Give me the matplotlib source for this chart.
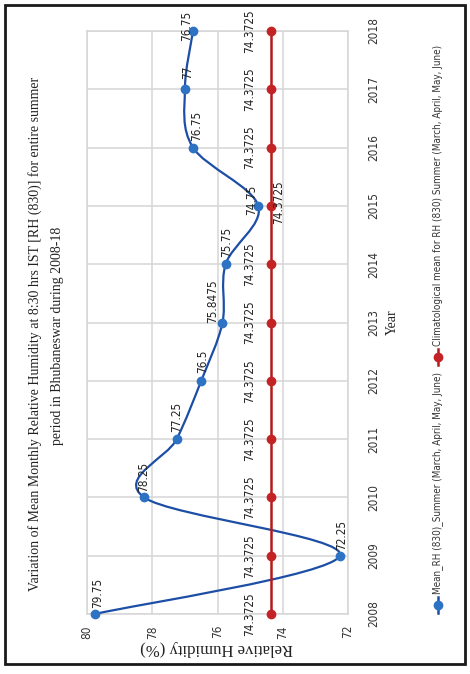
import matplotlib
matplotlib.use("Agg")
import matplotlib.pyplot as plt
from matplotlib.path import Path
from matplotlib.patches import PathPatch, Rectangle
from matplotlib.lines import Line2D
from matplotlib import font_manager
import numpy as np

# ---- data ----
years = [2008, 2009, 2010, 2011, 2012, 2013, 2014, 2015, 2016, 2017, 2018]
mean_rh = [79.75, 72.25, 78.25, 77.25, 76.5, 75.8475, 75.75, 74.75, 76.75, 77, 76.75]
clim_rh = [74.3725] * 11
rh_ticks = [72, 74, 76, 78, 80]

title_lines = [
    "Variation of Mean Monthly Relative Humidity at 8:30 hrs IST [RH (830)] for entire summer",
    "period in Bhubaneswar during 2008-18",
]
mean_label = "Mean_RH (830)_Summer (March, April, May, June)"
clim_label = "Climatological mean for RH (830) Summer (March, April, May, June)"
x_title = "Year"
y_title = "Relative Humidity (%)"

# ---- style ----
BLUE_LINE = "#1c4ea6"
BLUE_MARK = "#2e72c4"
RED_LINE = "#b51a1a"
RED_MARK = "#c42325"
GRID = "#d6d6d6"
SERIF = ["Liberation Serif", "DejaVu Serif"]

names = {f.name for f in font_manager.fontManager.ttflist}
condensed = [f for f in font_manager.fontManager.ttflist
             if f.name == "DejaVu Sans" and f.stretch == "condensed"]
if "Liberation Sans Narrow" in names:
    NARROW = dict(family="Liberation Sans Narrow")
elif condensed:
    NARROW = dict(family="DejaVu Sans", stretch="condensed")
else:
    NARROW = dict(family="Liberation Sans")

W, H = 470, 674
fig = plt.figure(figsize=(W / 100, H / 100), dpi=100)
fig.patch.set_facecolor("white")


def fx(px):
    return px / W


def fy(py):
    return 1 - py / H


# The whole chart is laid out turned a quarter turn: years run bottom to top,
# humidity runs right to left.
ax = fig.add_axes([fx(87), fy(614), (348 - 87) / W, (614 - 31) / H])
ax.set_xlim(80, 72)
ax.set_ylim(2008, 2018)
ax.set_xticks(rh_ticks)
ax.set_yticks(years)
ax.grid(True, color=GRID, lw=1.1)
ax.set_axisbelow(True)
for s in ax.spines.values():
    s.set_color(GRID)
    s.set_linewidth(1.1)
ax.tick_params(length=0)
ax.yaxis.tick_right()
ax.set_xticklabels([str(t) for t in rh_ticks], rotation=90, fontsize=8.5,
                   color="#333333", **NARROW)
ax.set_yticklabels([str(y) for y in years], rotation=90, va="center",
                   fontsize=8.5, color="#333333", **NARROW)
ax.tick_params(axis="x", pad=8)
ax.tick_params(axis="y", pad=14)

# smoothed line through the monthly means (Catmull-Rom style Bezier segments)
pts = np.column_stack([mean_rh, years]).astype(float)
n = len(pts)
verts = [tuple(pts[0])]
codes = [Path.MOVETO]
for i in range(n - 1):
    p0 = pts[max(i - 1, 0)]
    p1 = pts[i]
    p2 = pts[i + 1]
    p3 = pts[min(i + 2, n - 1)]
    c1 = p1 + (p2 - p0) / 6
    c2 = p2 - (p3 - p1) / 6
    verts += [tuple(c1), tuple(c2), tuple(p2)]
    codes += [Path.CURVE4] * 3
ax.add_patch(PathPatch(Path(verts, codes), fill=False, edgecolor=BLUE_LINE,
                       lw=1.6, transform=ax.transData, zorder=3, clip_on=False))
ax.plot(mean_rh, years, "o", color=BLUE_MARK, ms=6, zorder=4, clip_on=False)

ax.plot(clim_rh, years, "-o", color=RED_LINE, mfc=RED_MARK, mec=RED_MARK,
        lw=1.8, ms=6, zorder=3, clip_on=False)

# data labels
mean_off = [(2, 21), (2, 21), (0, 20), (0, 22), (1, 19), (-10, 21), (1, 22),
            (-7, 6), (4, 22), (3, 17), (-6, 5)]
for v, y, (dx, dy) in zip(mean_rh, years, mean_off):
    ax.annotate(f"{v:g}", (v, y), xytext=(dx, dy), textcoords="offset pixels",
                rotation=90, ha="center", va="center", fontsize=8.5,
                color="#222222", zorder=5, **NARROW)
for v, y in zip(clim_rh, years):
    dx, dy = (-21, 0) if y != 2015 else (8, 4)
    ax.annotate(f"{v:g}", (v, y), xytext=(dx, dy), textcoords="offset pixels",
                rotation=90, ha="center", va="center", fontsize=8.5,
                color="#222222", zorder=5, **NARROW)

# titles
fig.text(fx(35), fy(334), title_lines[0], rotation=90, ha="center", va="center",
         family=SERIF, fontsize=10, color="#222222")
fig.text(fx(58), fy(336), title_lines[1], rotation=90, ha="center", va="center",
         family=SERIF, fontsize=10, color="#222222")
fig.text(fx(392), fy(322), x_title, rotation=90, ha="center", va="center",
         family=SERIF, fontsize=10, color="#222222")
fig.text(fx(217), fy(648), y_title, rotation=180, ha="center", va="center",
         family=SERIF, fontsize=12, color="#222222")

# legend
for ym, color, mcol, text, ytxt in [
    (605, BLUE_LINE, BLUE_MARK, mean_label, 594),
    (357, RED_LINE, RED_MARK, clim_label, 346),
]:
    fig.add_artist(Line2D([fx(438)] * 2, [fy(ym - 8), fy(ym + 8)],
                          transform=fig.transFigure, color=color, lw=1.8))
    fig.add_artist(Line2D([fx(438)], [fy(ym)], transform=fig.transFigure,
                          marker="o", ms=6, color=mcol, lw=0))
    fig.text(fx(438), fy(ytxt), text, rotation=90, ha="center", va="bottom",
             fontsize=7.1, color="#333333", **NARROW)

# chart frame
fig.add_artist(Rectangle((fx(5), fy(664)), 460 / W, 659 / H,
                         transform=fig.transFigure, fill=False,
                         edgecolor="#1a1a1a", lw=2))

fig.savefig("out.png", dpi=100)
